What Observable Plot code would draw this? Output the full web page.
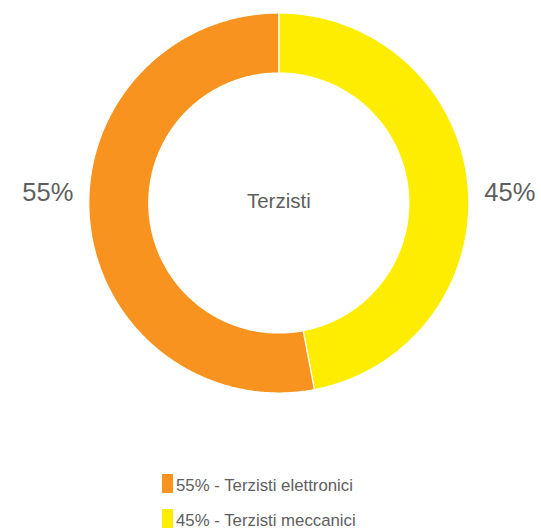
<!DOCTYPE html>
<html>
<head>
<meta charset="utf-8">
<script src="https://cdn.jsdelivr.net/npm/d3@7"></script>
<script src="https://cdn.jsdelivr.net/npm/@observablehq/plot@0.6"></script>
<style>
  html, body { margin: 0; padding: 0; background: #fff; }
  body { width: 541px; height: 530px; overflow: hidden; font-family: "Liberation Sans", Arial, sans-serif; }
  #legend { margin-top: 14px; padding-left: 162px; }
  .row { display: flex; align-items: flex-end; height: 19px; margin-bottom: 16px; }
  .sw { width: 11px; height: 19px; flex: none; }
  .lab { font-size: 16.8px; line-height: 1; color: #5e5e5e; margin-left: 3px; position: relative; top: 2px; white-space: nowrap; }
</style>
</head>
<body>
<div id="chart"></div>
<div id="legend"></div>
<script>
// ---- data ----
const categories = ["Terzisti elettronici", "Terzisti meccanici"];
const percentLabels = ["55%", "45%"];
const sliceShares = [53, 47];            // slice sizes as drawn in the picture
const sliceColors = ["#F7931E", "#FFED00"];
const centerTitle = "Terzisti";

// ---- layout ----
const W = 541, H = 460;
const CX = 278.3, CY = 202.5;
const R_OUT = 190, R_IN = 130, R_LABEL = 231;

const rows = categories.map((c, i) => ({
  category: c, label: percentLabels[i], share: sliceShares[i], color: sliceColors[i]
}));

// pie starts at 12 o'clock with "meccanici", clockwise
const pieOrder = [rows[1], rows[0]];
const arcs = d3.pie().value(d => d.share).sort(null)(pieOrder);

const pts = [];
for (const a of arcs) {
  const n = Math.max(2, Math.ceil((a.endAngle - a.startAngle) / (Math.PI / 360)));
  const ring = [];
  for (let k = 0; k <= n; k++) {
    const t = a.startAngle + (a.endAngle - a.startAngle) * k / n;
    ring.push([R_OUT * Math.sin(t), R_OUT * Math.cos(t)]);
  }
  for (let k = n; k >= 0; k--) {
    const t = a.startAngle + (a.endAngle - a.startAngle) * k / n;
    ring.push([R_IN * Math.sin(t), R_IN * Math.cos(t)]);
  }
  ring.push(ring[0]);
  for (const [x, y] of ring) pts.push({x, y, key: a.data.category, color: a.data.color});
}

const labelData = arcs.map(a => {
  const mid = (a.startAngle + a.endAngle) / 2;
  return {x: R_LABEL * Math.sign(Math.sin(mid)), y: 10, text: a.data.label};
});

const chart = Plot.plot({
  width: W, height: H,
  marginTop: 0, marginRight: 0, marginBottom: 0, marginLeft: 0,
  x: {domain: [-CX, W - CX], range: [0, W], axis: null},
  y: {domain: [-(H - CY), CY], range: [H, 0], axis: null},
  color: {type: "identity"},
  style: {fontFamily: "'Liberation Sans', Arial, sans-serif", background: "#fff"},
  marks: [
    Plot.line(pts, {x: "x", y: "y", z: "key", fill: "color", stroke: "#fff", strokeWidth: 1.2, curve: "linear-closed"}),
    Plot.text(labelData, {x: "x", y: "y", text: "text", fontSize: 25.5, fill: "#5e5e5e", textAnchor: "middle"}),
    Plot.text([centerTitle], {x: () => 0, y: () => 2, text: d => d, fontSize: 20.5, fill: "#5e5e5e", textAnchor: "middle"})
  ]
});
document.getElementById("chart").appendChild(chart);

const legend = document.getElementById("legend");
for (const r of rows) {
  const row = document.createElement("div");
  row.className = "row";
  const sw = document.createElement("span");
  sw.className = "sw";
  sw.style.background = r.color;
  const lab = document.createElement("span");
  lab.className = "lab";
  lab.textContent = `${r.label} - ${r.category}`;
  row.appendChild(sw);
  row.appendChild(lab);
  legend.appendChild(row);
}
</script>
</body>
</html>
